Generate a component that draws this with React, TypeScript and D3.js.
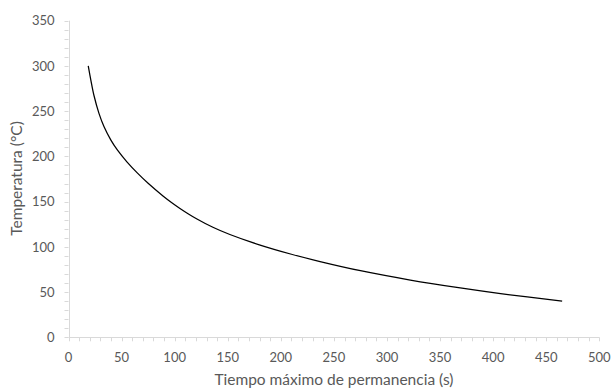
import React, { useEffect, useRef } from "react";
import * as d3 from "d3";

// curve
const tiempo = [18.6, 21, 24, 28.7, 33.4, 39.8, 46, 55, 65, 75, 89, 97, 105, 113, 121, 136, 152, 179, 210, 237, 275, 322, 369, 407, 465];
const temperatura = [300, 284.7, 267.3, 247.6, 233, 218.3, 207.1, 194, 181.5, 170.3, 156.3, 149.1, 142.5, 136.4, 130.8, 121.6, 113.6, 102.5, 91.8, 83.7, 73.6, 63.3, 54.6, 48.3, 40];
const xTicks = [0, 50, 100, 150, 200, 250, 300, 350, 400, 450, 500];
const yTicks = [0, 50, 100, 150, 200, 250, 300, 350];

const W = 613;
const H = 389;
const FONT = "Lato, 'Open Sans', sans-serif";

function App() {
  const ref = useRef<SVGSVGElement>(null);

  useEffect(() => {
    const svg = d3.select(ref.current);
    svg.selectAll("*").remove();

    const x = d3.scaleLinear().domain([0, 500]).range([68.5, 599.3]);
    const y = d3.scaleLinear().domain([0, 350]).range([337.3, 20.7]);
    const axisColor = "#d9d9d9";
    const textColor = "#595959";

    const g = svg.append("g");

    // minor ticks every 10
    const minor = d3.range(0, 501, 10);
    g.selectAll(".xminor")
      .data(minor)
      .enter()
      .append("line")
      .attr("x1", (d) => Math.round(x(d)) + 0.5)
      .attr("x2", (d) => Math.round(x(d)) + 0.5)
      .attr("y1", y(0))
      .attr("y2", y(0) + 4)
      .attr("stroke", axisColor);
    const yminor = d3.range(0, 351, 10);
    g.selectAll(".yminor")
      .data(yminor)
      .enter()
      .append("line")
      .attr("x1", x(0) - 4)
      .attr("x2", x(0))
      .attr("y1", (d) => Math.round(y(d)) + 0.5)
      .attr("y2", (d) => Math.round(y(d)) + 0.5)
      .attr("stroke", axisColor);

    // axis lines
    g.append("line")
      .attr("x1", x(0))
      .attr("x2", x(500))
      .attr("y1", Math.round(y(0)) + 0.5)
      .attr("y2", Math.round(y(0)) + 0.5)
      .attr("stroke", axisColor);
    g.append("line")
      .attr("x1", Math.round(x(0)) + 0.5)
      .attr("x2", Math.round(x(0)) + 0.5)
      .attr("y1", y(0))
      .attr("y2", y(350))
      .attr("stroke", axisColor);

    // tick labels
    g.selectAll(".xl")
      .data(xTicks)
      .enter()
      .append("text")
      .attr("x", (d) => x(d))
      .attr("y", 361.5)
      .attr("text-anchor", "middle")
      .attr("font-family", FONT)
      .attr("font-size", 13)
      .attr("fill", textColor)
      .text((d) => d);
    g.selectAll(".yl")
      .data(yTicks)
      .enter()
      .append("text")
      .attr("x", 54.5)
      .attr("y", (d) => y(d))
      .attr("dy", "0.36em")
      .attr("text-anchor", "end")
      .attr("font-family", FONT)
      .attr("font-size", 13)
      .attr("fill", textColor)
      .text((d) => d);

    // axis titles
    g.append("text")
      .attr("x", 333.9)
      .attr("y", 384.5)
      .attr("text-anchor", "middle")
      .attr("font-family", FONT)
      .attr("font-size", 15.5)
      .attr("fill", textColor)
      .text("Tiempo máximo de permanencia (s)");
    g.append("text")
      .attr("transform", `translate(22,178.5) rotate(-90)`)
      .attr("text-anchor", "middle")
      .attr("font-family", FONT)
      .attr("font-size", 15.5)
      .attr("fill", textColor)
      .text("Temperatura (°C)");

    // curve
    const pts = tiempo.map((t, i) => [t, temperatura[i]] as [number, number]);
    const line = d3
      .line<[number, number]>()
      .x((d) => x(d[0]))
      .y((d) => y(d[1]))
      .curve(d3.curveCatmullRom.alpha(0.5));
    g.append("path")
      .datum(pts)
      .attr("d", line)
      .attr("fill", "none")
      .attr("stroke", "#000")
      .attr("stroke-width", 1.25);
  }, []);

  return (
    <svg
      ref={ref}
      width={W}
      height={H}
      style={{ position: "absolute", left: 0, top: 0, background: "#fff" }}
    ></svg>
  );
}

export default App;
